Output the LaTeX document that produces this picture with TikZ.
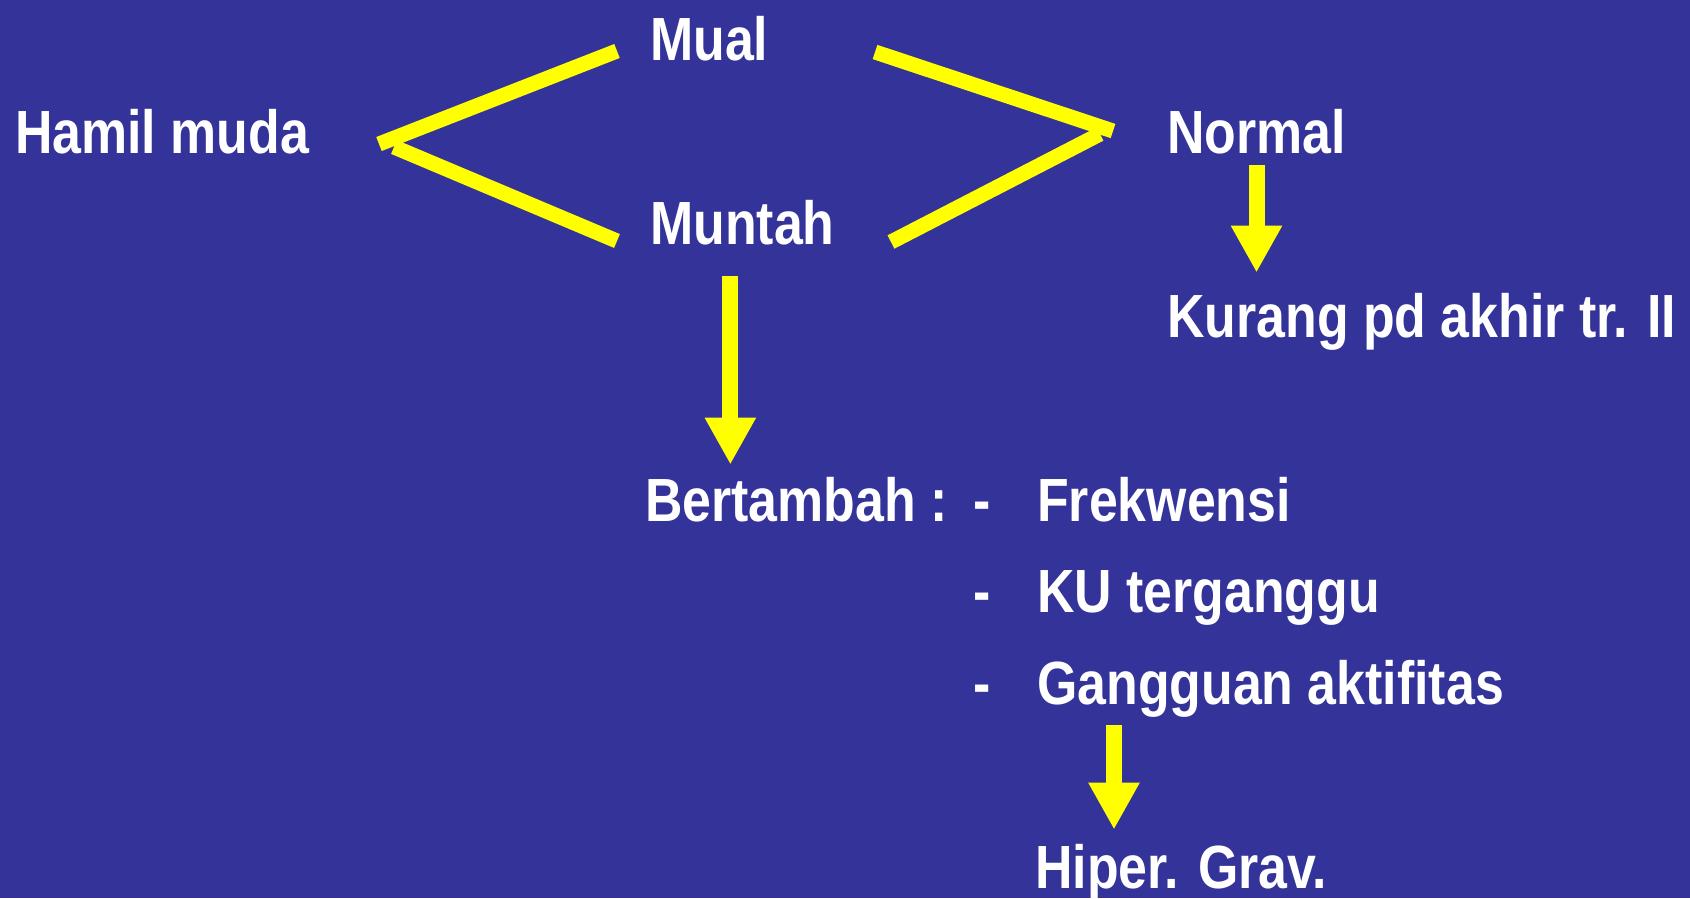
\documentclass[tikz,border=0pt]{standalone}
\usepackage{fontspec}
\setmainfont{Liberation Sans}[FakeStretch=0.85]
\usetikzlibrary{arrows.meta,positioning}
\begin{document}
\begin{tikzpicture}[x=1pt, y=-1pt,
  lbl/.style={text=white, anchor=base west, inner sep=0pt, font=\bfseries\fontsize{61}{72}\selectfont},
  wedge/.style={draw=yel, line width=15pt},
  down/.style={draw=yel, line width=16pt, -{Triangle[width=48pt, length=47pt]}}]
\definecolor{bg}{HTML}{333399}
\definecolor{yel}{HTML}{FFFF00}
\useasboundingbox (0,0) rectangle (1690,898);
\clip (0,0) rectangle (1690,898);
\fill[bg] (0,0) rectangle (1690,898);
\node[lbl] (mual) at (650,60) {Mual};
\node[lbl] (hamil) at (15,153) {Hamil muda};
\node[lbl] (normal) at (1167,153) {Normal};
\node[lbl] (muntah) at (650,244) {Muntah};
\node[lbl] (kurang) at (1167,337) {Kurang pd akhir tr. II};
\node[lbl] (bertambah) at (645,521) {Bertambah :};
\node[lbl] (dash1) at (973,521) {-};
\node[lbl] (item1) at (1037,521) {Frekwensi};
\node[lbl] (dash2) at (973,612) {-};
\node[lbl] (item2) at (1037,612) {KU terganggu};
\node[lbl] (dash3) at (973,704) {-};
\node[lbl] (item3) at (1037,704) {Gangguan aktifitas};
\node[lbl] (hiper) at (1035,888) {Hiper. Grav.};
\coordinate (mualL) at (617,51);
\coordinate (muntahL) at (617,241);
\coordinate (hamilA) at (379,144);
\coordinate (hamilB) at (394,147);
\coordinate (mualR) at (875,52);
\coordinate (muntahR) at (891,242);
\coordinate (normalA) at (1113,131);
\coordinate (normalB) at (1100,134);
\draw[wedge] (mualL) -- (hamilA);
\draw[wedge] (hamilB) -- (muntahL);
\draw[wedge] (mualR) -- (normalA);
\draw[wedge] (muntahR) -- (normalB);
\coordinate (mtop) at ([xshift=-12pt]muntah.south);
\coordinate (gtop) at ([xshift=77pt]item3.south west);
\draw[down, shorten <=11pt, shorten >=20pt] (normal.south) -- (normal.south |- kurang.north);
\draw[down, shorten <=31pt, shorten >=12pt] (mtop) -- (mtop |- bertambah.north);
\draw[down, shorten <=8pt, shorten >=14pt] (gtop) -- (gtop |- hiper.north);
\end{tikzpicture}
\end{document}
